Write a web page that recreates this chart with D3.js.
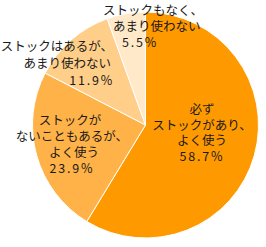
<!DOCTYPE html>
<html>
<head>
<meta charset="utf-8">
<script src="https://cdn.jsdelivr.net/npm/d3@7"></script>
<style>
  html, body { margin: 0; padding: 0; background: #fff; }
  svg { display: block; }
</style>
</head>
<body>
<svg id="chart" width="266" height="247"></svg>
<script>
// カテゴリ（改行ごと）
var categories = [
    ['必ず', 'ストックがあり、', 'よく使う'],
    ['ストックが', 'ないこともあるが、', 'よく使う'],
    ['ストックはあるが、', 'あまり使わない'],
    ['ストックもなく、', 'あまり使わない']
];
var values = [58.7, 23.9, 11.9, 5.5];
var colors = ['#ff9900', '#ffb247', '#ffcf8a', '#ffe9c9'];

// ラベル位置
var labelLayout = [
    { x: 202, y: 114, anchor: 'middle', lh: 15.5, dx: [0, 0, 0, 0] },
    { x: 72, y: 124.5, anchor: 'middle', lh: 16.3, dx: [-2, 0, 2, 0] },
    { x: 112, y: 51, anchor: 'end', lh: 17, dx: [1, -1, 2] },
    { x: 103, y: 15, anchor: 'start', lh: 16, dx: [0, 10, 19] }
];

var cfg = {
    cx: 145.5,
    cy: 125,
    radius: 113,
    fontSize: 12.5,
    fontFamily: '"Noto Sans CJK JP", "Noto Sans", sans-serif'
};

var svg = d3.select('#chart');
var g = svg.append('g')
    .attr('transform', 'translate(' + cfg.cx + ',' + cfg.cy + ')');

var pie = d3.pie().sort(null).value(function (d) { return d; });
var arc = d3.arc().innerRadius(0).outerRadius(cfg.radius);

g.selectAll('path.slice')
    .data(pie(values))
    .enter()
    .append('path')
    .attr('class', 'slice')
    .attr('d', arc)
    .attr('fill', function (d, i) { return colors[i]; })
    .attr('stroke', '#fff')
    .attr('stroke-width', 1);

var fmt = d3.format('.1f');
var labels = svg.append('g').attr('id', 'labels');

for (var i = 0; i < values.length; i++) {
    var lay = labelLayout[i];
    var lines = categories[i].concat([fmt(values[i]) + '%']);
    for (var n = 0; n < lines.length; n++) {
        var isPct = n == lines.length - 1;
        labels.append('text')
            .attr('font-family', cfg.fontFamily)
            .attr('font-size', cfg.fontSize)
            .attr('fill', '#1a1a1a')
            .attr('text-anchor', lay.anchor)
            .attr('x', lay.x + (lay.dx[n] || 0))
            .attr('y', lay.y + lay.lh * n)
            .attr('letter-spacing', isPct ? 1.8 : 0)
            .text(lines[n]);
    }
}
</script>
</body>
</html>
